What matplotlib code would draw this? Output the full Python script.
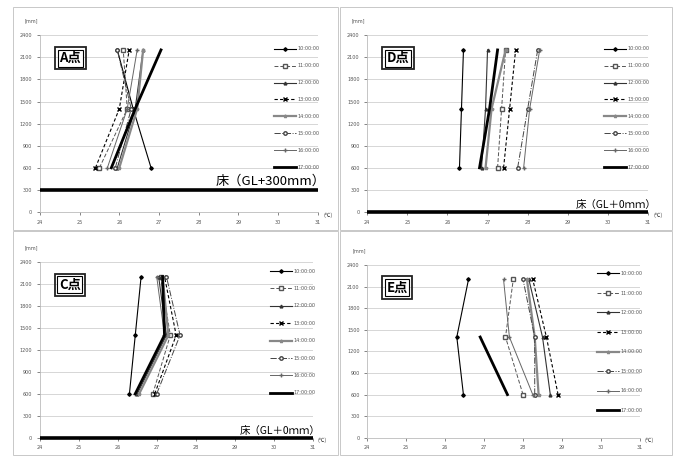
import numpy as np
import matplotlib.pyplot as plt
from matplotlib.patches import Rectangle

plt.rcParams['font.family'] = ['DejaVu Sans', 'Noto Sans CJK JP']

times = ['10:00:00', '11:00:00', '12:00:00', '13:00:00',
         '14:00:00', '15:00:00', '16:00:00', '17:00:00']
heights = [600, 1400, 2200]

# temperatures (deg C) at each height, one row per time
a_temps = [[26.80, 26.35, 25.95],
           [25.50, 26.20, 26.10],
           [25.95, 26.40, 26.60],
           [25.40, 26.00, 26.25],
           [26.00, 26.45, 26.60],
           [25.90, 26.30, 25.95],
           [25.70, 26.20, 26.45],
           [25.80, 26.40, 27.05]]

d_temps = [[26.30, 26.35, 26.40],
           [27.25, 27.35, 27.45],
           [26.85, 26.95, 27.00],
           [27.40, 27.55, 27.70],
           [26.95, 27.10, 27.45],
           [27.75, 28.00, 28.25],
           [27.90, 28.05, 28.30],
           [26.80, 27.05, 27.25]]

c_temps = [[26.30, 26.45, 26.60],
           [26.90, 27.35, 27.10],
           [26.50, 27.25, 27.05],
           [26.95, 27.50, 27.20],
           [26.55, 27.30, 27.15],
           [27.00, 27.60, 27.25],
           [26.45, 27.20, 27.00],
           [26.45, 27.20, 27.15]]

e_temps = [[26.47, 26.30, 26.60],
           [28.00, 27.55, 27.75],
           [28.70, 28.50, 28.15],
           [28.90, 28.60, 28.25],
           [28.40, 28.30, 28.10],
           [28.30, 28.30, 28.00],
           [28.25, 27.65, 27.50],
           [27.60, 26.90, np.nan]]

styles = [dict(color='black', lw=0.8, ls='-', marker='D', ms=1.8),
          dict(color='#555555', lw=0.7, ls=(0, (4, 2)), marker='s', mfc='white', ms=2.5),
          dict(color='#333333', lw=0.8, ls='-', marker='^', ms=2),
          dict(color='black', lw=0.8, ls=(0, (3, 2)), marker='x', ms=2.5),
          dict(color='#888888', lw=1.6, ls='-', marker='*', ms=2.5),
          dict(color='#444444', lw=0.7, ls='-.', marker='o', mfc='white', ms=2.5),
          dict(color='#666666', lw=0.7, ls='-', marker='+', ms=3),
          dict(color='black', lw=2.0, ls='-')]

CJK = ['Noto Sans CJK JP', 'DejaVu Sans']


def draw_panel(ax, temps, name, floor_y, floor_text, floor_size, leg_y, leg_sp):
    for t, st, lab in zip(temps, styles, times):
        ax.plot(t, heights, label=lab, **st)
    ax.set_xlim(24, 31)
    ax.set_ylim(0, 2400)
    ax.set_xticks(range(24, 32))
    ax.set_yticks(range(0, 2401, 300))
    ax.tick_params(labelsize=3.5, colors='#555555', length=2, width=0.5)
    ax.grid(axis='y', color='#d0d0d0', lw=0.6)
    ax.set_axisbelow(True)
    for s in ['top', 'right']:
        ax.spines[s].set_visible(False)
    for s in ['left', 'bottom']:
        ax.spines[s].set_color('#bbbbbb')
        ax.spines[s].set_linewidth(0.6)
    if floor_y is not None:
        ax.plot([24, 31], [floor_y, floor_y], color='black', lw=2.6,
                solid_capstyle='butt', clip_on=False, zorder=5)
        ax.text(31.2, floor_y + 25, floor_text, fontsize=floor_size, ha='right',
                va='bottom', family=CJK)
    ax.text(-0.03, 1.08, '[mm]', transform=ax.transAxes, fontsize=3.5, ha='center',
            va='center', color='#555555')
    ax.text(1.035, 0.0, '(℃)', transform=ax.transAxes, fontsize=4, ha='center',
            va='top', color='#333333', family=CJK)
    ax.text(0.11, 0.87, name, transform=ax.transAxes, fontsize=9.5, fontweight='bold',
            ha='center', va='center', family=CJK,
            bbox=dict(boxstyle='square,pad=0.12', fc='white', ec='black', lw=0.8),
            zorder=6)
    ax.text(0.11, 0.87, name, transform=ax.transAxes, fontsize=9.5, fontweight='bold',
            ha='center', va='center', color='none', family=CJK,
            bbox=dict(boxstyle='square,pad=0.32', fc='none', ec='#222222', lw=1.3),
            zorder=6)
    ax.legend(loc='upper left', bbox_to_anchor=(0.835, leg_y), frameon=False,
              fontsize=3.5, handlelength=4.5, handletextpad=0.3, borderpad=0,
              labelspacing=leg_sp, labelcolor='#555555')


fig = plt.figure(figsize=(6.75, 4.57), dpi=100)

ax_a = fig.add_axes([0.059, 0.536, 0.412, 0.387])
ax_d = fig.add_axes([0.544, 0.536, 0.416, 0.387])
ax_c = fig.add_axes([0.059, 0.042, 0.404, 0.385])
ax_e = fig.add_axes([0.544, 0.042, 0.404, 0.378])

draw_panel(ax_a, a_temps, 'A点', 300, '床（GL+300mm）', 9.5, 0.95, 2.45)
draw_panel(ax_d, d_temps, 'D点', 0, '床（GL＋0ｍｍ）', 7.5, 0.95, 2.45)
draw_panel(ax_c, c_temps, 'C点', 0, '床（GL＋0ｍｍ）', 7.5, 0.975, 2.55)
draw_panel(ax_e, e_temps, 'E点', None, '', 7.5, 0.98, 3.0)

# panel frames
for x0, y0, w, h in [(13, 7, 325, 223), (340, 7, 332, 223),
                     (13, 231, 325, 224), (340, 231, 332, 224)]:
    fig.add_artist(Rectangle((x0 / 675, 1 - (y0 + h) / 457), w / 675, h / 457,
                             transform=fig.transFigure, fill=False,
                             ec='#c8c8c8', lw=0.7))

fig.savefig('out.png', dpi=100)
